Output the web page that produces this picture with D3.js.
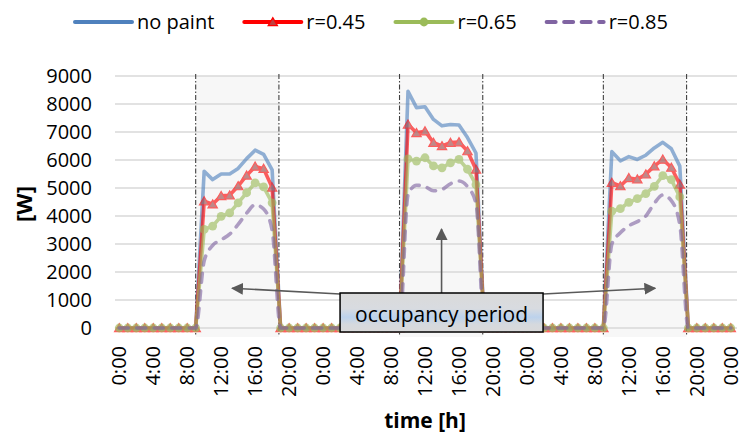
<!DOCTYPE html>
<html>
<head>
<meta charset="utf-8">
<script src="https://cdn.jsdelivr.net/npm/d3@7"></script>
<style>
  body { margin: 0; background: #fff; }
  svg { display: block; font-family: "Open Sans", sans-serif; }
</style>
</head>
<body>
<div id="chart"></div>
<script>
// hourly values over three days (hour 0 .. 72)
const noPaint = [
  0, 0, 0, 0, 0, 0, 0, 0, 0, 0,
  5600, 5300, 5500, 5500, 5700, 6050, 6350, 6200, 5650,
  0, 0, 0, 0, 0, 0, 0, 0, 0, 0, 0, 0, 0, 0, 0,
  8450, 7870, 7900, 7450, 7220, 7270, 7250, 6800, 6250,
  0, 0, 0, 0, 0, 0, 0, 0, 0, 0, 0, 0, 0, 0, 0,
  6300, 5970, 6120, 6020, 6170, 6430, 6630, 6400, 5780,
  0, 0, 0, 0, 0, 0
];
const r045 = [
  0, 0, 0, 0, 0, 0, 0, 0, 0, 0,
  4530, 4420, 4720, 4740, 5070, 5450, 5770, 5690, 5020,
  0, 0, 0, 0, 0, 0, 0, 0, 0, 0, 0, 0, 0, 0, 0,
  7270, 6970, 7030, 6620, 6500, 6620, 6640, 6320, 5660,
  0, 0, 0, 0, 0, 0, 0, 0, 0, 0, 0, 0, 0, 0, 0,
  5190, 5070, 5360, 5310, 5490, 5780, 6020, 5730, 5130,
  0, 0, 0, 0, 0, 0
];
const r065 = [
  0, 0, 0, 0, 0, 0, 0, 0, 0, 0,
  3520, 3640, 3990, 4110, 4470, 4830, 5180, 5040, 4470,
  0, 0, 0, 0, 0, 0, 0, 0, 0, 0, 0, 0, 0, 0, 0,
  6040, 5960, 6080, 5790, 5720, 5900, 6020, 5670, 5120,
  0, 0, 0, 0, 0, 0, 0, 0, 0, 0, 0, 0, 0, 0, 0,
  4170, 4260, 4490, 4620, 4800, 5060, 5440, 5300, 4680,
  0, 0, 0, 0, 0, 0
];
const r085 = [
  0, 0, 0, 0, 0, 0, 0, 0, 0, 0,
  2400, 2950, 3150, 3350, 3700, 4100, 4400, 4250, 3500,
  0, 0, 0, 0, 0, 0, 0, 0, 0, 0, 0, 0, 0, 0, 0,
  4750, 5100, 5050, 4900, 4950, 5150, 5250, 5050, 4450,
  0, 0, 0, 0, 0, 0, 0, 0, 0, 0, 0, 0, 0, 0, 0,
  3000, 3400, 3650, 3800, 4000, 4450, 4750, 4550, 3700,
  0, 0, 0, 0, 0, 0
];

const tickHours = [0, 4, 8, 12, 16, 20, 24, 28, 32, 36, 40, 44, 48, 52, 56, 60, 64, 68, 72];
const tickLabels = ["0:00", "4:00", "8:00", "12:00", "16:00", "20:00",
                    "0:00", "4:00", "8:00", "12:00", "16:00", "20:00",
                    "0:00", "4:00", "8:00", "12:00", "16:00", "20:00", "0:00"];
const yTicks = [0, 1000, 2000, 3000, 4000, 5000, 6000, 7000, 8000, 9000];

// occupancy periods, in hours (start, end)
const occupancy = [[9, 18.8], [33, 42.8], [57, 66.8]];

const series = [
  { name: "no paint", values: noPaint, color: "#4f81bd", marker: null, dash: null },
  { name: "r=0.45", values: r045, color: "#ff0000", marker: "triangle", dash: null },
  { name: "r=0.65", values: r065, color: "#9bbb59", marker: "circle", dash: null },
  { name: "r=0.85", values: r085, color: "#8064a2", marker: null, dash: "9,8.5" }
];

const width = 740, height = 434;
const plot = { left: 115, right: 735, top: 76, bottom: 328 };

const svg = d3.select("#chart").append("svg")
  .attr("width", width)
  .attr("height", height)
  .attr("viewBox", [0, 0, width, height]);

const x = d3.scaleLinear([-0.5, 72.5], [plot.left, plot.right]);
const y = d3.scaleLinear([0, 9000], [plot.bottom, plot.top]);

// gradient for the annotation box, arrow head
const defs = svg.append("defs");
const grad = defs.append("linearGradient").attr("id", "boxfill")
  .attr("x1", 0).attr("y1", 0).attr("x2", 0).attr("y2", 1);
[[0, "#dadada"], [0.4, "#d8dbe0"], [0.62, "#bcd2ec"], [0.8, "#d5d9de"], [1, "#d9d9d9"]]
  .forEach(([o, c]) => grad.append("stop").attr("offset", o).attr("stop-color", c));
defs.append("marker").attr("id", "arrow")
  .attr("viewBox", "0 0 10 10").attr("refX", 9).attr("refY", 5)
  .attr("markerWidth", 7.5).attr("markerHeight", 7.5)
  .attr("markerUnits", "strokeWidth")
  .attr("orient", "auto")
  .append("path").attr("d", "M0,0 L10,5 L0,10 Z").attr("fill", "#595959");

// shaded occupancy bands
svg.append("g").selectAll("rect").data(occupancy).join("rect")
  .attr("x", d => x(d[0]))
  .attr("width", d => x(d[1]) - x(d[0]))
  .attr("y", plot.top)
  .attr("height", plot.bottom - plot.top + 9)
  .attr("fill", "#f7f7f7");

// gridlines
svg.append("g").selectAll("line").data(yTicks).join("line")
  .attr("x1", plot.left).attr("x2", plot.right + 2)
  .attr("y1", d => y(d)).attr("y2", d => y(d))
  .attr("stroke", "#d9d9d9").attr("stroke-width", 1.3);

// dash-dot lines bounding the occupancy periods
svg.append("g").selectAll("line").data(occupancy.flat()).join("line")
  .attr("x1", d => x(d)).attr("x2", d => x(d))
  .attr("y1", plot.top - 2).attr("y2", plot.bottom + 7)
  .attr("stroke", "#404040").attr("stroke-width", 1.1)
  .attr("stroke-dasharray", "5,2,1.5,2");

// y axis labels
svg.append("g")
  .style("font-size", "20px")
  .attr("text-anchor", "end")
  .selectAll("text").data(yTicks).join("text")
  .attr("x", 92).attr("y", d => y(d)).attr("dy", "0.35em")
  .text(d => d);

// x axis labels
svg.append("g")
  .style("font-size", "20px")
  .attr("text-anchor", "end")
  .selectAll("text").data(tickHours).join("text")
  .attr("transform", d => `translate(${x(d)},346) rotate(-90)`)
  .attr("dy", "0.35em")
  .text((d, i) => tickLabels[i]);

svg.append("text")
  .attr("transform", "translate(24,204) rotate(-90)")
  .attr("text-anchor", "middle").attr("dy", "0.35em")
  .style("font-size", "22px").style("font-weight", "bold")
  .text("[W]");

svg.append("text")
  .attr("x", 425).attr("y", 428)
  .attr("text-anchor", "middle")
  .style("font-size", "21px").style("font-weight", "bold")
  .text("time [h]");

// series
const hours = noPaint.map((_, i) => i);
const triangle = d3.symbol(d3.symbolTriangle, 38);

series.forEach(s => {
  const line = d3.line()
    .x(h => x(h))
    .y(h => y(s.values[h]))
    .curve(s.dash ? d3.curveMonotoneX : d3.curveLinear);
  const g = svg.append("g").attr("opacity", 0.62);
  g.append("path")
    .attr("d", line(hours))
    .attr("fill", "none")
    .attr("stroke", s.color)
    .attr("stroke-width", 3.6)
    .attr("stroke-linejoin", "round")
    .attr("stroke-linecap", "round")
    .attr("stroke-dasharray", s.dash);
  if (s.marker === "triangle") {
    g.selectAll("path.m").data(hours).join("path").attr("class", "m")
      .attr("transform", h => `translate(${x(h)},${y(s.values[h]) + 1})`)
      .attr("d", triangle)
      .attr("fill", "#a04545").attr("stroke", s.color).attr("stroke-width", 1.2);
  } else if (s.marker === "circle") {
    g.selectAll("circle").data(hours).join("circle")
      .attr("cx", h => x(h)).attr("cy", h => y(s.values[h]))
      .attr("r", 4.4).attr("fill", s.color);
  }
});

// annotation: box and arrows
const box = { h0: 26, h1: 49.9, top: 293, bottom: 332 };
const boxMid = (x(box.h0) + x(box.h1)) / 2;
const arrows = [
  { from: [x(box.h0), box.top + 1], to: [x(13.3), y(1420)] },
  { from: [boxMid, box.top], to: [boxMid, y(3530)] },
  { from: [x(box.h1), box.top + 1], to: [x(63.1), y(1420)] }
];
svg.append("g").selectAll("line").data(arrows).join("line")
  .attr("x1", d => d.from[0]).attr("y1", d => d.from[1])
  .attr("x2", d => d.to[0]).attr("y2", d => d.to[1])
  .attr("stroke", "#595959").attr("stroke-width", 1.6)
  .attr("marker-end", "url(#arrow)");

svg.append("rect")
  .attr("x", x(box.h0)).attr("y", box.top)
  .attr("width", x(box.h1) - x(box.h0))
  .attr("height", box.bottom - box.top)
  .attr("fill", "url(#boxfill)")
  .attr("stroke", "#000").attr("stroke-width", 1.5);

svg.append("text")
  .attr("x", boxMid).attr("y", 322)
  .attr("text-anchor", "middle")
  .style("font-size", "21px")
  .text("occupancy period");

// legend
const legend = svg.append("g").style("font-size", "20px");
let lx = 75;
series.forEach(s => {
  const item = legend.append("g").attr("transform", `translate(${lx},22)`);
  item.append("line")
    .attr("x1", 0).attr("x2", 57)
    .attr("stroke", s.color).attr("stroke-width", 4)
    .attr("stroke-linecap", "round")
    .attr("stroke-dasharray", s.dash);
  if (s.marker === "triangle") {
    item.append("path").attr("transform", "translate(28.5,1)")
      .attr("d", triangle).attr("fill", "#c04040").attr("stroke", s.color).attr("stroke-width", 1.2);
  } else if (s.marker === "circle") {
    item.append("circle").attr("cx", 28.5).attr("r", 4.4).attr("fill", s.color);
  }
  const t = item.append("text").attr("x", 62).attr("y", 7).text(s.name);
  lx += 62 + t.node().getComputedTextLength() + 30;
});
</script>
</body>
</html>
